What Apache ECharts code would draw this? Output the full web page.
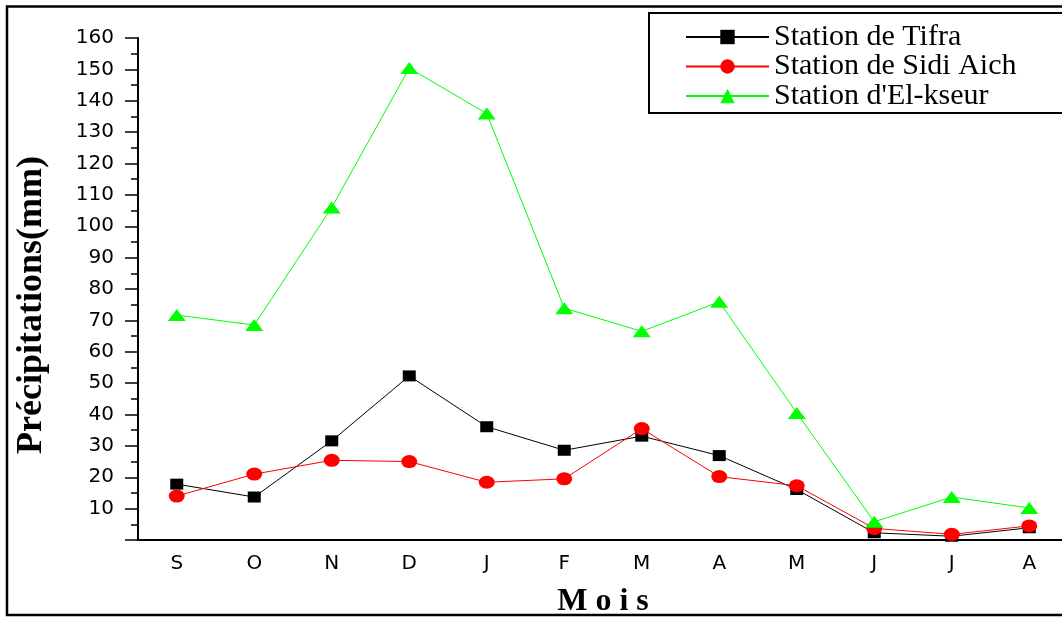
<!DOCTYPE html>
<html><head><meta charset="utf-8">
<script src="https://cdn.jsdelivr.net/npm/echarts@6/dist/echarts.min.js"></script>
<style>html,body{margin:0;padding:0;background:#fff}#c{width:1062px;height:617px}</style>
</head><body><div id="c"></div>
<script>
const months = ['S','O','N','D','J','F','M','A','M','J','J','A'];
const seriesNames = ['Station de Tifra','Station de Sidi Aich',"Station d'El-kseur"];
const tifra = [17.8,13.7,31.6,52.3,36.1,28.6,33.1,26.9,16.1,2.3,1.2,3.9];
const sidiAich = [14.0,21.0,25.4,25.0,18.4,19.5,35.5,20.2,17.3,3.7,1.8,4.5];
const elKseur = [71.7,68.5,106.0,150.4,135.9,73.9,66.5,75.9,40.5,5.8,13.7,10.2];
const yMin = 0, yMax = 160, yStep = 10;

const chart = echarts.init(document.getElementById('c'), null, {renderer:'canvas'});
const serif = 'Liberation Serif';
const sans = 'DejaVu Sans';
chart.setOption({
  animation:false,
  backgroundColor:'#fff',
  grid:{left:138, top:38, width:930, height:502, containLabel:false, outerBoundsMode:'none'},
  legend:{
    orient:'vertical', left:680, top:17, itemWidth:83, itemHeight:18, itemGap:-0.5,
    data:seriesNames,
    textStyle:{fontFamily:serif, fontSize:30, color:'#000', lineHeight:29.5, padding:[0,0,0,0]}
  },
  graphic:[
    {type:'rect', shape:{x:7, y:6.5, width:1100, height:608.5}, style:{fill:'none', stroke:'#000', lineWidth:2.5}, z:-1},
    {type:'rect', shape:{x:649, y:13, width:600, height:100}, style:{fill:'#fff', stroke:'#000', lineWidth:2}, z:-1}
  ],
  xAxis:[
    {type:'category', data:months, boundaryGap:true,
     axisLine:{lineStyle:{color:'#000', width:2}},
     axisTick:{alignWithLabel:true, interval:0, length:10, lineStyle:{color:'#000', width:1.5}},
     axisLabel:{interval:0, margin:14, fontFamily:sans, fontSize:20, color:'#000'},
     name:'M o i s', nameLocation:'middle', nameGap:46,
     nameTextStyle:{fontFamily:serif, fontSize:32, fontWeight:'bold', color:'#000'}},
    {type:'category', data:months, boundaryGap:true, position:'bottom',
     axisLine:{show:false},
     axisTick:{alignWithLabel:false, interval:0, length:5, lineStyle:{color:'#000', width:1.5}},
     axisLabel:{show:false}}
  ],
  yAxis:{
    type:'value', min:yMin, max:yMax, interval:yStep,
    axisLine:{show:true, lineStyle:{color:'#000', width:2}},
    axisTick:{show:true, length:13, lineStyle:{color:'#000', width:1.5}},
    minorTick:{show:true, splitNumber:2, length:7, lineStyle:{color:'#000', width:1.5}},
    splitLine:{show:false},
    axisLabel:{margin:24, fontFamily:sans, fontSize:20, color:'#000',
      formatter:v => v === 0 ? '' : String(v)},
    name:'Précipitations(mm)', nameLocation:'middle', nameGap:88, nameRotate:90,
    nameTextStyle:{fontFamily:serif, fontSize:36, fontWeight:'bold', color:'#000', padding:[0,32,0,0]}
  },
  series:[
    {name:seriesNames[0], type:'line', data:tifra, symbol:'rect', symbolSize:[13,11],
     itemStyle:{color:'#000'}, lineStyle:{color:'#000', width:1}},
    {name:seriesNames[1], type:'line', data:sidiAich, symbol:'circle', symbolSize:[16,13],
     itemStyle:{color:'#ff0000'}, lineStyle:{color:'#ff0000', width:1}},
    {name:seriesNames[2], type:'line', data:elKseur, symbol:'triangle', symbolSize:[18,12],
     itemStyle:{color:'#00ff00'}, lineStyle:{color:'#00ff00', width:1}}
  ]
});
</script></body></html>
